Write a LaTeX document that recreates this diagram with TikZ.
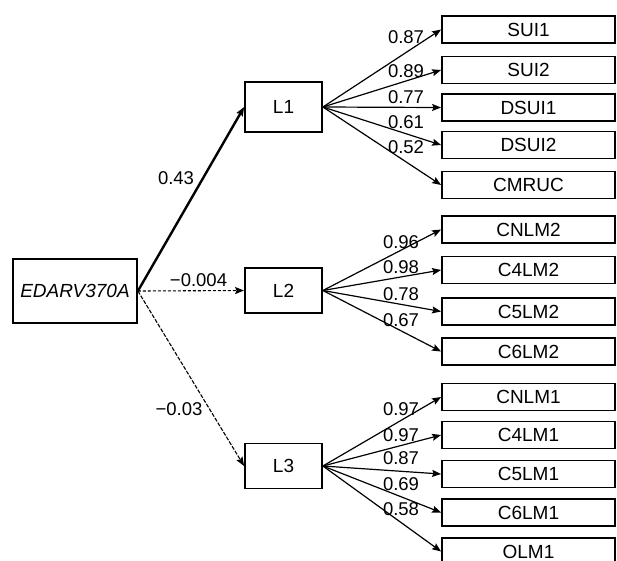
\documentclass[tikz,border=0pt]{standalone}
\usepackage{fontspec}
\setmainfont{Liberation Sans}
\usetikzlibrary{arrows.meta}
\begin{document}
\begin{tikzpicture}[x=1pt,y=-1pt,
  box/.style={draw,line width=1.8pt,inner sep=0pt,font=\fontsize{19}{22}\selectfont},
  ind/.style={box,minimum width=173pt,minimum height=27pt},
  lat/.style={box,minimum width=77pt,minimum height=45pt},
  coef/.style={anchor=base,inner sep=0pt,font=\fontsize{18.5}{22}\selectfont},
  load/.style={line width=1.2pt,-{Stealth[length=9pt,width=7pt,inset=1.5pt]}},
  tip/.style={-{Stealth[length=9pt,width=7pt,inset=1.5pt]}}
]
\useasboundingbox (0,0) rectangle (617,560);
\clip (0,0) rectangle (617,560);

% exogenous
\node[box,minimum width=124pt,minimum height=64pt,font=\fontsize{19}{22}\selectfont\itshape] (E) at (75,291) {EDARV370A};

% latent
\node[lat,minimum height=50pt] (L1) at (283.5,107) {L1};
\node[lat] (L2) at (283.5,290.5) {L2};
\node[lat] (L3) at (283.5,466) {L3};

% indicators
\node[ind] (SUI1) at (528.5,29.5) {SUI1};
\node[ind] (SUI2) at (528.5,70) {SUI2};
\node[ind] (DSUI1) at (528.5,107.5) {DSUI1};
\node[ind] (DSUI2) at (528.5,145) {DSUI2};
\node[ind] (CMRUC) at (528.5,185) {CMRUC};

\node[ind] (CNLM2) at (528.5,229.5) {CNLM2};
\node[ind] (C4LM2) at (528.5,270) {C4LM2};
\node[ind] (C5LM2) at (528.5,311.5) {C5LM2};
\node[ind] (C6LM2) at (528.5,351.5) {C6LM2};

\node[ind] (CNLM1) at (528.5,397) {CNLM1};
\node[ind] (C4LM1) at (528.5,435) {C4LM1};
\node[ind] (C5LM1) at (528.5,474) {C5LM1};
\node[ind] (C6LM1) at (528.5,512.5) {C6LM1};
\node[ind] (OLM1) at (528.5,551.5) {OLM1};

% structural paths
\draw[line width=2.4pt,tip] (E.east) -- (L1.west);
\draw[line width=1.1pt,dash pattern=on 3pt off 2pt,tip] (E.east) -- (L2.west);
\draw[line width=1.1pt,dash pattern=on 4pt off 1.5pt,tip] (E.east) -- (L3.west);

\node[coef] (c1) at (176,184) {0.43};
\node[coef] (c2) at (198.5,286) {−0.004};
\node[coef] (c3) at (179,415) {−0.03};

% loadings
\foreach \t in {SUI1,SUI2,DSUI1,DSUI2,CMRUC} \draw[load] (L1.east) -- (\t.west);
\foreach \t in {CNLM2,C4LM2,C5LM2,C6LM2} \draw[load] (L2.east) -- (\t.west);
\foreach \t in {CNLM1,C4LM1,C5LM1,C6LM1,OLM1} \draw[load] (L3.east) -- (\t.west);

\node[coef] (l11) at (406,43) {0.87};
\node[coef] (l12) at (406,77) {0.89};
\node[coef] (l13) at (406,103) {0.77};
\node[coef] (l14) at (406,128) {0.61};
\node[coef] (l15) at (406,153) {0.52};

\node[coef] (l21) at (401,248) {0.96};
\node[coef] (l22) at (401,273) {0.98};
\node[coef] (l23) at (401,300) {0.78};
\node[coef] (l24) at (401,326) {0.67};

\node[coef] (l31) at (401,415) {0.97};
\node[coef] (l32) at (401,441) {0.97};
\node[coef] (l33) at (401,464) {0.87};
\node[coef] (l34) at (401,490) {0.69};
\node[coef] (l35) at (401,515) {0.58};
\end{tikzpicture}
\end{document}
